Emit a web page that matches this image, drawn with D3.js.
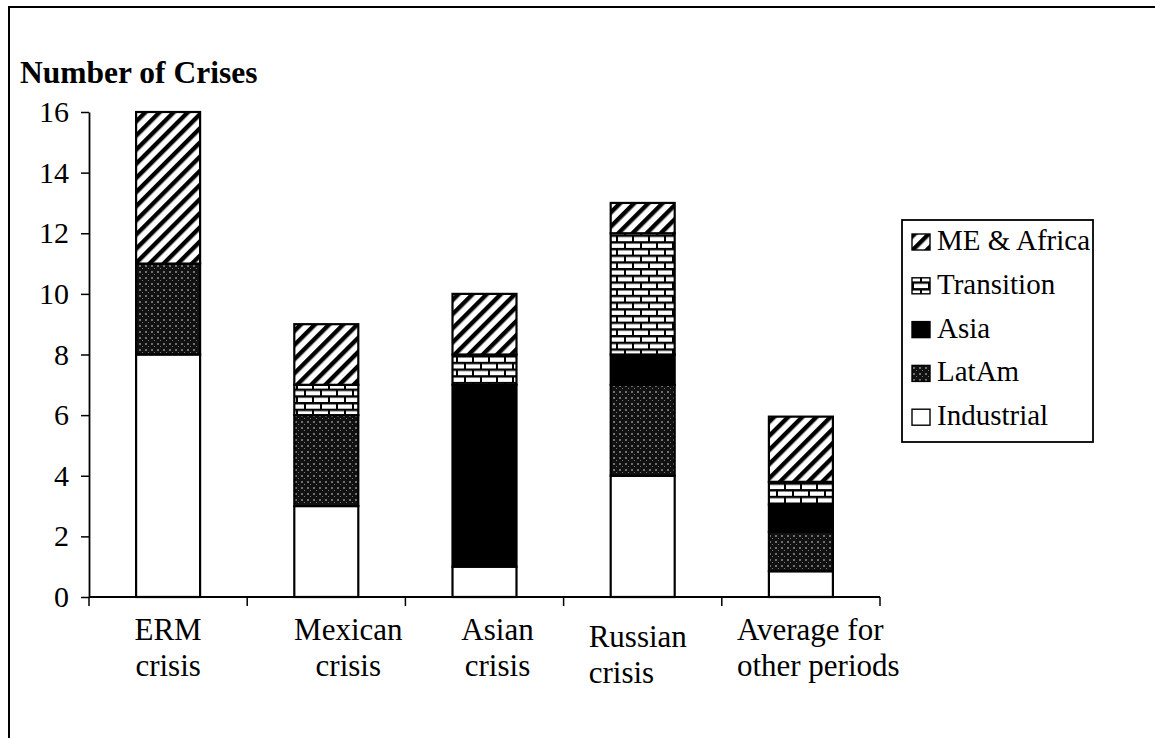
<!DOCTYPE html>
<html>
<head>
<meta charset="utf-8">
<script src="https://cdn.jsdelivr.net/npm/d3@7"></script>
<style>
  html, body { margin: 0; padding: 0; background: #fff; }
  svg { display: block; }
  svg text { font-family: "Liberation Serif", Tinos, "Times New Roman", Times, "DejaVu Serif", serif; fill: #000; }
</style>
</head>
<body>
<svg id="chart" width="1155" height="738"></svg>
<script>
// Crisis episodes and regional counts
const categories = ["ERM crisis", "Mexican crisis", "Asian crisis", "Russian crisis", "Average for other periods"];
const categoryLines = [["ERM", "crisis"], ["Mexican", "crisis"], ["Asian", "crisis"], ["Russian", "crisis"], ["Average for", "other periods"]];
const seriesNames = ["Industrial", "LatAm", "Asia", "Transition", "ME & Africa"];
const industrial = [8, 3, 1, 4, 0.85];
const latAm      = [3, 3, 0, 3, 1.3];
const asia       = [0, 0, 6, 1, 0.9];
const transition = [0, 1, 1, 4, 0.75];
const meAfrica   = [5, 2, 2, 1, 2.15];
const yTicks = [0, 2, 4, 6, 8, 10, 12, 14, 16];
const titleText = "Number of Crises";

const FONT = '"Liberation Serif", Tinos, "Times New Roman", Times, "DejaVu Serif", serif';

const seriesValues = [industrial, latAm, asia, transition, meAfrica];
const rows = categories.map((c, i) => {
  const r = { category: c };
  seriesNames.forEach((s, k) => { r[s] = seriesValues[k][i]; });
  return r;
});

const svg = d3.select("#chart");
const defs = svg.append("defs");

// Fill patterns
// ME & Africa: diagonal stripes
const stripe = defs.append("pattern").attr("id", "pat-me")
  .attr("patternUnits", "userSpaceOnUse").attr("width", 10).attr("height", 10)
  .attr("patternTransform", "rotate(45)");
stripe.append("rect").attr("width", 10).attr("height", 10).attr("fill", "#fff");
stripe.append("rect").attr("x", 0).attr("width", 4.4).attr("height", 10).attr("fill", "#000");

// Transition: brick
const brick = defs.append("pattern").attr("id", "pat-tr")
  .attr("patternUnits", "userSpaceOnUse").attr("width", 32).attr("height", 13.4);
brick.append("rect").attr("width", 32).attr("height", 13.4).attr("fill", "#fff");
brick.append("rect").attr("x", 0).attr("y", 0).attr("width", 32).attr("height", 2.4).attr("fill", "#000");
brick.append("rect").attr("x", 0).attr("y", 6.7).attr("width", 32).attr("height", 2.4).attr("fill", "#000");
[0, 16].forEach(x => brick.append("rect").attr("x", x).attr("y", 0).attr("width", 2).attr("height", 6.7).attr("fill", "#000"));
[8, 24].forEach(x => brick.append("rect").attr("x", x).attr("y", 6.7).attr("width", 2).attr("height", 6.7).attr("fill", "#000"));

// LatAm: dark speckle
const speck = defs.append("pattern").attr("id", "pat-la")
  .attr("patternUnits", "userSpaceOnUse").attr("width", 6).attr("height", 6);
speck.append("rect").attr("width", 6).attr("height", 6).attr("fill", "#111");
speck.append("path").attr("d", "M1,1 L3,3 M3,1 L1,3").attr("stroke", "#9a9a9a").attr("stroke-width", 0.7);
speck.append("rect").attr("x", 4).attr("y", 4).attr("width", 1).attr("height", 1).attr("fill", "#777");

const fills = {
  "Industrial": "#fff",
  "LatAm": "url(#pat-la)",
  "Asia": "#000",
  "Transition": "url(#pat-tr)",
  "ME & Africa": "url(#pat-me)"
};

// Outer frame (top and left edges)
svg.append("path").attr("d", "M9,738 L9,7 L1155,7")
  .attr("fill", "none").attr("stroke", "#000").attr("stroke-width", 2);

// Title
svg.append("text").attr("x", 20).attr("y", 83).attr("font-family", FONT)
  .attr("font-size", 31.5).attr("font-weight", "bold").text(titleText);

// Scales
const x = d3.scaleBand().domain(categories).range([89, 880]).padding(0);
const y = d3.scaleLinear().domain([0, 16]).range([597, 112]);
const barW = 64;

// Stacked bars
const stack = d3.stack().keys(seriesNames);
const layers = stack(rows);

const gBars = svg.append("g");
layers.forEach(layer => {
  gBars.selectAll(null).data(layer.filter(d => d[1] - d[0] > 0)).enter().append("rect")
    .attr("x", d => x(d.data.category) + x.bandwidth() / 2 - barW / 2)
    .attr("y", d => y(d[1]))
    .attr("width", barW)
    .attr("height", d => y(d[0]) - y(d[1]))
    .attr("fill", fills[layer.key])
    .attr("stroke", "#000").attr("stroke-width", 2.2);
});

// Y axis
const yAxis = d3.axisLeft(y).tickValues(yTicks).tickSize(8).tickPadding(12).tickSizeOuter(0);
const gy = svg.append("g").attr("transform", "translate(89,0)").call(yAxis);
gy.attr("font-family", FONT).attr("font-size", 30);
gy.select(".domain").attr("stroke", "#000").attr("stroke-width", 1.8);
gy.selectAll(".tick line").attr("stroke", "#000").attr("stroke-width", 1.5);
gy.selectAll(".tick text").attr("fill", "#000");

// X axis baseline with tick marks at category boundaries
const xEdges = categories.map(c => x(c)).concat([x.range()[1]]);
svg.append("line").attr("x1", 89).attr("x2", 880).attr("y1", y(0)).attr("y2", y(0))
  .attr("stroke", "#000").attr("stroke-width", 1.8);
svg.selectAll(null).data(xEdges).enter().append("line")
  .attr("x1", d => d).attr("x2", d => d)
  .attr("y1", y(0)).attr("y2", y(0) + 9)
  .attr("stroke", "#000").attr("stroke-width", 1.5);

// Category labels
const labelLayout = [
  { dx: 0,   anchor: "middle", dy: 0 },
  { dx: 22,  anchor: "middle", dy: 0 },
  { dx: 13,  anchor: "middle", dy: 0 },
  { dx: -54, anchor: "start",  dy: 7 },
  { dx: -64, anchor: "start",  dy: 0 }
];
categories.forEach((c, i) => {
  const L = labelLayout[i];
  const cx = x(c) + x.bandwidth() / 2 + L.dx;
  const t = svg.append("text").attr("font-family", FONT).attr("font-size", 31).attr("text-anchor", L.anchor);
  categoryLines[i].forEach((line, j) => {
    t.append("tspan").attr("x", cx).attr("y", 640 + L.dy + j * 36).text(line);
  });
});

// Legend
const legend = svg.append("g");
legend.append("rect").attr("x", 902).attr("y", 220).attr("width", 191).attr("height", 222)
  .attr("fill", "#fff").attr("stroke", "#000").attr("stroke-width", 1.8);
const legendOrder = seriesNames.slice().reverse();
legendOrder.forEach((s, i) => {
  const by = 250 + i * 43.8;
  legend.append("rect").attr("x", 912).attr("y", by - 16).attr("width", 18).attr("height", 16)
    .attr("fill", fills[s]).attr("stroke", "#000").attr("stroke-width", 1.4);
  legend.append("text").attr("x", 937).attr("y", by).attr("font-family", FONT)
    .attr("font-size", 29).text(s);
});
</script>
</body>
</html>
